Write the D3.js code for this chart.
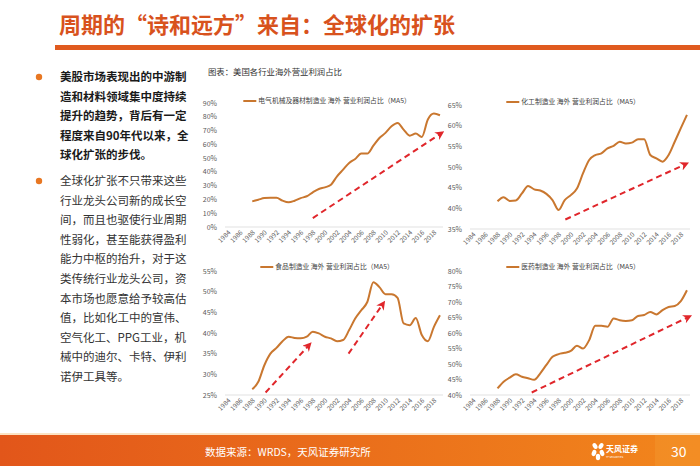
<!DOCTYPE html>
<html>
<head>
<meta charset="utf-8">
<script src="https://cdn.jsdelivr.net/npm/d3@7/dist/d3.min.js"></script>
<style>
  html, body { margin: 0; padding: 0; background: #fff; }
  svg { display: block; font-family: "Noto Sans CJK SC", "Noto Sans", sans-serif; }
</style>
</head>
<body>
<div id="page"></div>
<script>
// ---- data ----
const years = d3.range(1984, 2020);           // category axis 1984..2019
const tickYears = d3.range(1984, 2019, 2);    // labels every two years
const dataYears = d3.range(1988, 2020);       // series start in 1988

const elecValues = [18.6, 19.8, 21.0, 21.3, 21.3, 19.1, 17.9, 19.1, 21.0, 22.3, 25.2, 27.6, 28.8, 30.7,
  36.8, 41.6, 46.5, 49.4, 53.3, 53.3, 59.0, 64.6, 68.3, 73.1, 75.5, 70.7, 66.3, 67.8, 65.4, 78.0, 82.3, 81.1];
const chemValues = [41.7, 42.7, 41.8, 41.9, 43.6, 45.4, 44.6, 44.3, 43.5, 42.0, 39.6, 42.0, 43.2, 44.8,
  48.5, 51.7, 52.9, 53.3, 54.5, 55.1, 56.1, 55.7, 55.9, 56.7, 56.7, 52.9, 52.1, 51.3, 52.9, 56.1, 59.4, 62.6];
const foodValues = [26.4, 28.2, 32.2, 35.0, 36.4, 38.0, 39.1, 38.8, 38.7, 39.1, 40.3, 39.9, 39.1, 38.7,
  38.0, 38.3, 40.7, 43.5, 45.5, 47.5, 52.3, 51.1, 49.4, 49.4, 48.5, 42.3, 41.9, 43.6, 39.5, 38.0, 41.5, 44.3];
const pharmaValues = [42.1, 44.3, 45.6, 46.7, 45.9, 45.4, 44.9, 47.0, 49.7, 52.3, 53.2, 53.6, 54.2, 55.9,
  55.0, 57.7, 62.3, 62.3, 62.0, 64.7, 64.1, 63.9, 64.1, 65.5, 65.8, 66.8, 66.0, 67.4, 68.4, 68.7, 70.3, 73.8];

const elecTicks = d3.range(0, 91, 10);
const chemTicks = d3.range(35, 66, 5);
const foodTicks = d3.range(25, 56, 5);
const pharmaTicks = d3.range(40, 81, 5);

// red trend arrows, [year, percent] start -> end
const elecArrows = [[[1998, 6.5], [2019.2, 68]]];
const chemArrows = [[[1999.1, 37.3], [2018.8, 50.7]]];
const foodArrows = [[[1990.2, 25.6], [1997.4, 37.1]], [[2003.9, 35.0], [2009.6, 47.1]]];
const pharmaArrows = [[[1993.6, 40.8], [2019.3, 65.2]]];

const elecName = "电气机械及器材制造业 海外 营业利润占比（MA5）";
const chemName = "化工制造业 海外 营业利润占比（MA5）";
const foodName = "食品制造业 海外 营业利润占比（MA5）";
const pharmaName = "医药制造业 海外 营业利润占比（MA5）";

const titleText = "周期的“诗和远方”来自：全球化的扩张";
const captionText = "图表：美国各行业海外营业利润占比";
const sourceText = "数据来源：WRDS，天风证券研究所";
const para1 = ["美股市场表现出的中游制", "造和材料领域集中度持续", "提升的趋势，背后有一定", "程度来自90年代以来，全", "球化扩张的步伐。"];
const para2 = ["全球化扩张不只带来这些", "行业龙头公司新的成长空", "间，而且也驱使行业周期", "性弱化，甚至能获得盈利",
  "能力中枢的抬升，对于这", "类传统行业龙头公司，资", "本市场也愿意给予较高估", "值，比如化工中的宣伟、",
  "空气化工、PPG工业，机", "械中的迪尔、卡特、伊利", "诺伊工具等。"];

// ---- page ----
const W = 700, H = 466;
const lineColor = "#c9772f";
const arrowColor = "#e0262b";
const orange = "#e05a1f";

const svg = d3.select("#page").append("svg")
  .attr("width", W).attr("height", H);

const defs = svg.append("defs");
defs.append("marker")
  .attr("id", "arrowHead")
  .attr("viewBox", "0 0 10 10")
  .attr("refX", 6).attr("refY", 5)
  .attr("markerWidth", 9).attr("markerHeight", 9)
  .attr("markerUnits", "userSpaceOnUse")
  .attr("orient", "auto")
  .append("path")
  .attr("d", "M0,0 L10,5 L0,10 L3,5 Z")
  .attr("fill", arrowColor);

const grad = defs.append("linearGradient").attr("id", "footGrad")
  .attr("x1", "0%").attr("x2", "100%");
grad.append("stop").attr("offset", "0%").attr("stop-color", "#e2561a");
grad.append("stop").attr("offset", "100%").attr("stop-color", "#f2861c");

// title
svg.append("text")
  .attr("x", 59).attr("y", 33)
  .attr("fill", "#d8521d")
  .attr("font-size", 22)
  .attr("font-weight", "bold")
  .text(titleText);

svg.append("rect")
  .attr("x", 55).attr("y", 45).attr("width", W - 55).attr("height", 5)
  .attr("fill", orange);

// left bullets
function paragraph(lines, y0, bold, color) {
  svg.append("circle").attr("cx", 39).attr("cy", y0 - 4).attr("r", 3.2).attr("fill", "#e87722");
  svg.append("g").selectAll("text")
    .data(lines)
    .join("text")
    .attr("x", 60)
    .attr("y", (d, i) => y0 + i * 19.6)
    .attr("font-size", 11.5)
    .attr("font-weight", bold ? "bold" : "normal")
    .attr("fill", color)
    .text(d => d);
}
paragraph(para1, 81, true, "#1a1a1a");
paragraph(para2, 185, false, "#333");

// caption
svg.append("text")
  .attr("x", 208).attr("y", 75)
  .attr("font-size", 8.4)
  .attr("fill", "#333")
  .text(captionText);

// ---- charts ----
function drawChart(cfg) {
  const x = d3.scalePoint().domain(years).range(cfg.xRange).padding(0.5);
  const step = x.step();
  const xv = v => x(1984) + (v - 1984) * step;   // continuous year position
  const y = d3.scaleLinear().domain(d3.extent(cfg.ticks)).range(cfg.yRange);
  const g = svg.append("g");

  // baseline
  g.append("line")
    .attr("x1", cfg.xRange[0]).attr("x2", cfg.xRange[1])
    .attr("y1", y(cfg.ticks[0])).attr("y2", y(cfg.ticks[0]))
    .attr("stroke", "#d9d9d9").attr("stroke-width", 0.8);

  // y tick labels
  g.selectAll(".yl")
    .data(cfg.ticks)
    .join("text")
    .attr("x", cfg.xRange[0] - 8)
    .attr("y", d => y(d) + 2.5)
    .attr("text-anchor", "end")
    .attr("font-size", 7)
    .attr("fill", "#595959")
    .text(d => d + "%");

  // x tick labels, rotated
  g.selectAll(".xl")
    .data(tickYears)
    .join("text")
    .attr("transform", d => `translate(${x(d) + 3},${y(cfg.ticks[0]) + 6}) rotate(-45)`)
    .attr("text-anchor", "end")
    .attr("font-size", 6.5)
    .attr("fill", "#595959")
    .text(d => d);

  // series
  const line = d3.line()
    .x((d, i) => x(dataYears[i]))
    .y(d => y(d))
    .curve(d3.curveMonotoneX);
  g.append("path")
    .datum(cfg.values)
    .attr("d", line)
    .attr("fill", "none")
    .attr("stroke", lineColor)
    .attr("stroke-width", 2);

  // arrows
  g.selectAll(".arr")
    .data(cfg.arrows)
    .join("line")
    .attr("x1", d => xv(d[0][0])).attr("y1", d => y(d[0][1]))
    .attr("x2", d => xv(d[1][0])).attr("y2", d => y(d[1][1]))
    .attr("stroke", arrowColor)
    .attr("stroke-width", 2)
    .attr("stroke-dasharray", "6,4")
    .attr("marker-end", "url(#arrowHead)");

  // legend, centred over plot
  const leg = g.append("g");
  leg.append("line")
    .attr("x1", 0).attr("x2", 13).attr("y1", 0).attr("y2", 0)
    .attr("stroke", lineColor).attr("stroke-width", 2);
  const lt = leg.append("text")
    .attr("x", 15).attr("y", 2.4)
    .attr("font-size", 6.8)
    .attr("fill", "#404040")
    .text(cfg.name);
  const lw = 15 + lt.node().getComputedTextLength();
  const cx = (cfg.xRange[0] + cfg.xRange[1]) / 2 - 7;
  leg.attr("transform", `translate(${cx - lw / 2},${cfg.legendY})`);
}

drawChart({ values: elecValues, ticks: elecTicks, arrows: elecArrows, name: elecName,
  xRange: [225, 443], yRange: [227, 103], legendY: 101 });
drawChart({ values: chemValues, ticks: chemTicks, arrows: chemArrows, name: chemName,
  xRange: [470, 690], yRange: [229, 105], legendY: 102 });
drawChart({ values: foodValues, ticks: foodTicks, arrows: foodArrows, name: foodName,
  xRange: [225, 443], yRange: [395, 271], legendY: 267 });
drawChart({ values: pharmaValues, ticks: pharmaTicks, arrows: pharmaArrows, name: pharmaName,
  xRange: [470, 690], yRange: [395, 271], legendY: 267 });

// ---- footer ----
svg.append("rect").attr("x", 0).attr("y", 433).attr("width", W).attr("height", 2).attr("fill", "#fbe3c4");
svg.append("rect").attr("x", 0).attr("y", 435).attr("width", W).attr("height", H - 435).attr("fill", "url(#footGrad)");
svg.append("rect").attr("x", 655).attr("y", 435).attr("width", W - 655).attr("height", H - 435)
  .attr("fill", "#f4922a").attr("opacity", 0.6);

svg.append("text")
  .attr("x", 205).attr("y", 456)
  .attr("font-size", 10.5)
  .attr("fill", "#fff")
  .text(sourceText);

// logo mark
const logo = svg.append("g").attr("transform", "translate(598,451)").attr("fill", "#fff");
logo.selectAll("ellipse")
  .data([[-3, -5, -30], [3, -5, 30], [-4, 2, 20], [4, 2, -20], [0, 6, 0]])
  .join("ellipse")
  .attr("cx", d => d[0]).attr("cy", d => d[1])
  .attr("rx", 2.2).attr("ry", 3.2)
  .attr("transform", d => `rotate(${d[2]},${d[0]},${d[1]})`);
svg.append("text")
  .attr("x", 606).attr("y", 452)
  .attr("font-size", 8).attr("font-weight", "bold")
  .attr("fill", "#fff")
  .text("天风证券");
svg.append("text")
  .attr("x", 606).attr("y", 458)
  .attr("font-size", 2.5)
  .attr("fill", "#fff")
  .text("TF SECURITIES");

svg.append("text")
  .attr("x", 671).attr("y", 457)
  .attr("font-size", 14)
  .attr("fill", "#fff")
  .text("30");
</script>
</body>
</html>
